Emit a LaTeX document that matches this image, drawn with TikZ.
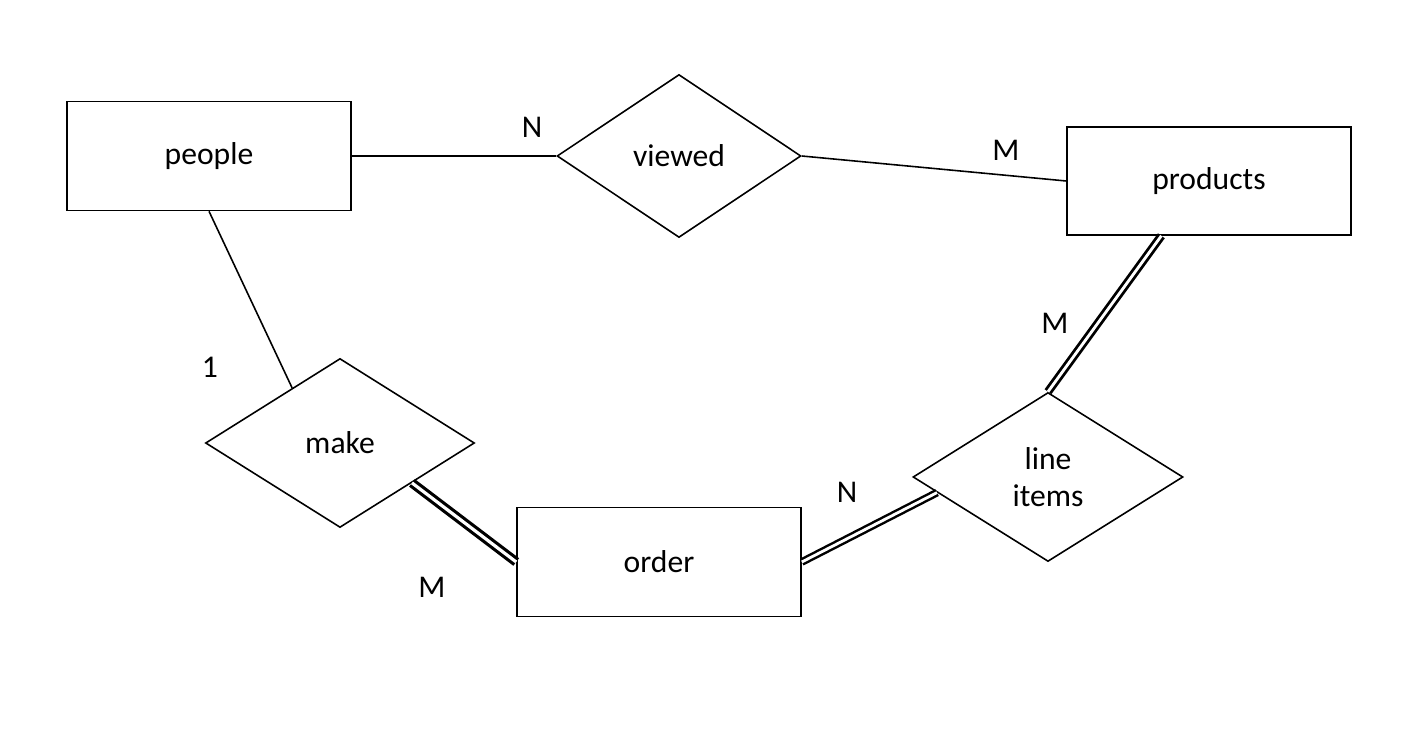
\documentclass[tikz,border=0pt]{standalone}
\usepackage{fontspec}
\setmainfont{Carlito}
\usetikzlibrary{shapes.geometric}
\tikzset{
  entity/.style={draw, line width=0.9pt, minimum width=5.68cm, minimum height=2.18cm, inner sep=0pt},
  relation/.style={draw, diamond, line width=0.9pt, inner sep=0pt, align=center},
  card/.style={inner sep=0pt},
  link/.style={line width=0.9pt},
  total/.style={double, line width=1.4pt, double distance=1.6pt}
}
\begin{document}
\begin{tikzpicture}[every node/.style={font=\fontsize{18}{21}\selectfont}]
  \useasboundingbox (0,0) rectangle (28.08,14.72);
  \node[entity] (people) at (4.18,11.6) {people};
  \node[entity, minimum height=2.16cm] (products) at (24.18,11.1) {products};
  \node[entity] (order) at (13.18,3.48) {order};
  \node[relation, minimum width=4.88cm, minimum height=3.26cm] (viewed) at (13.58,11.6) {viewed};
  \node[relation, minimum width=5.38cm, minimum height=3.38cm] (make) at (6.8,5.86) {make};
  \node[relation, minimum width=5.4cm, minimum height=3.38cm] (items) at (20.96,5.18) {line\\items};
  \draw[link] (people.east) -- (viewed.west);
  \draw[link] (viewed.east) -- (products.west);
  \draw[link] (people.south) -- (make.131);
  \draw[total, line width=1.8pt, double distance=1.8pt] (make.-29) -- (order.west);
  \draw[total] (order.east) -- (items.188);
  \draw[total, line width=1.6pt] (items.north) -- (products.229);
  \node[card] (n1) at (10.64,12.18) {N};
  \node[card] (m1) at (20.12,11.72) {M};
  \node[card] (one) at (4.2,7.38) {1};
  \node[card] (m2) at (8.64,2.98) {M};
  \node[card] (n2) at (16.94,4.88) {N};
  \node[card] (m3) at (21.1,8.26) {M};
\end{tikzpicture}
\end{document}
